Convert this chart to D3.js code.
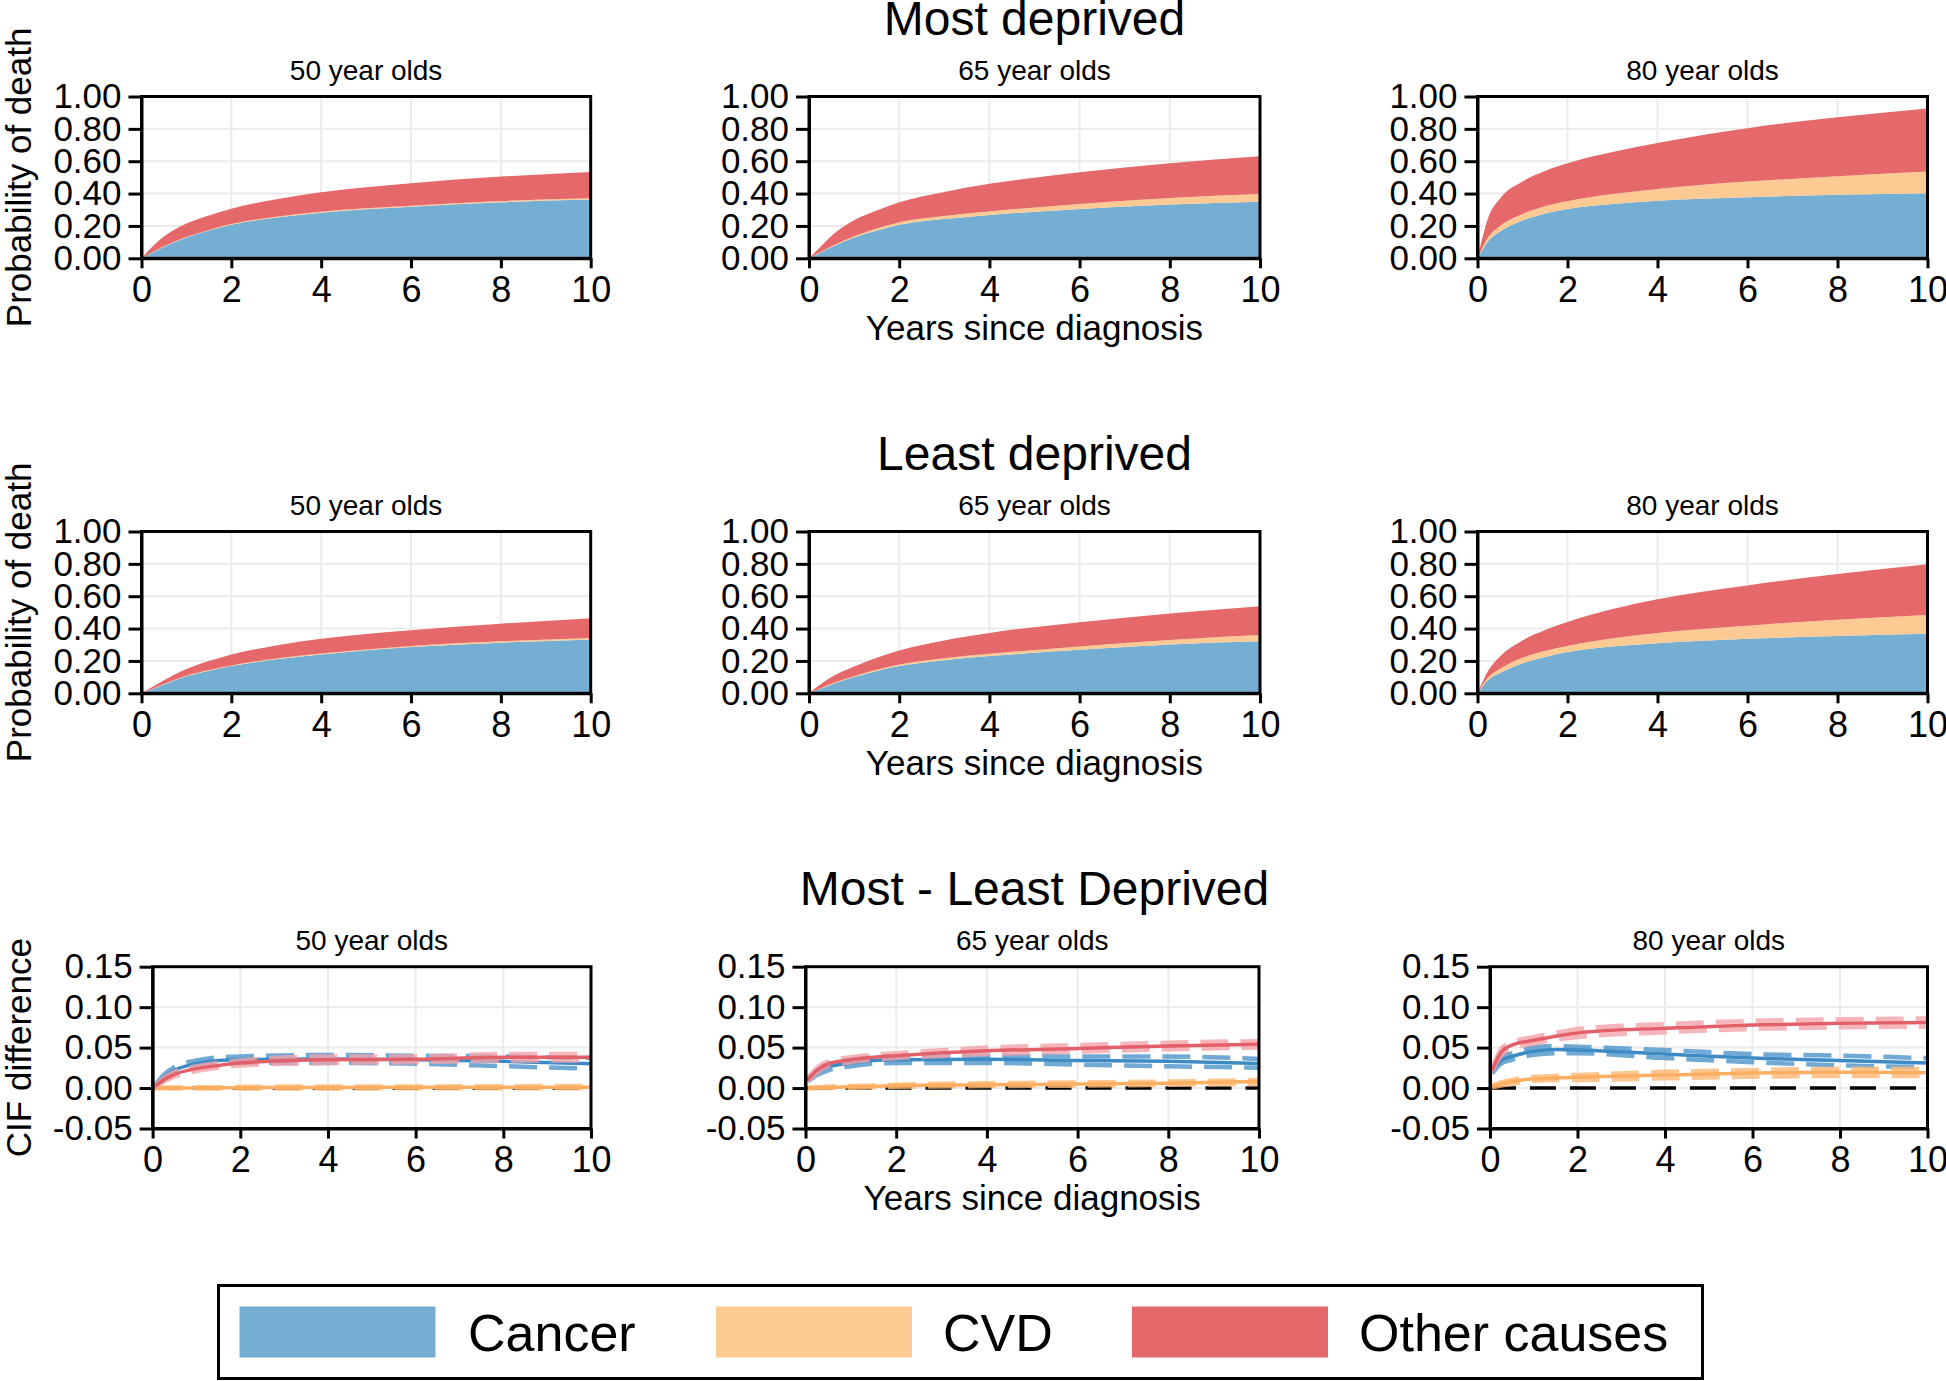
<!DOCTYPE html>
<html>
<head>
<meta charset="utf-8">
<script src="https://cdn.jsdelivr.net/npm/d3@7"></script>
<style>
  body { margin: 0; background: #fff; }
  svg { display: block; }
</style>
</head>
<body>
<svg id="chart" width="1946" height="1381"></svg>
<script>
const fontFamily = "Arial, 'Liberation Sans', Helvetica, sans-serif";

const causes = ["Cancer", "CVD", "Other causes"];
const areaColors = ["#74afd3", "#fdca94", "#e5696b"];
const lineColors = ["#3d8bc4", "#fdae61", "#e35f69"];
const ciColors = ["#4b93c9", "#fdb874", "#f2a3a9"];
const ageGroups = ["50 year olds", "65 year olds", "80 year olds"];
const rowTitles = ["Most deprived", "Least deprived", "Most - Least Deprived"];

const xTicks = [0, 2, 4, 6, 8, 10];
const cifTicks = [0, 0.2, 0.4, 0.6, 0.8, 1.0];
const diffTicks = [-0.05, 0, 0.05, 0.10, 0.15];

// cumulative incidence by cause (years since diagnosis)
const cifTimes = [0, 0.25, 0.5, 1, 1.5, 2, 3, 4, 6, 8, 10];

const most50Cancer = [0, .038, .072, .128, .172, .208, .252, .282, .318, .346, .363];
const most50CVD    = [0, .001, .002, .003, .0035, .004, .005, .006, .007, .008, .008];
const most50Other  = [0, .036, .061, .084, .0895, .095, .108, .120, .139, .151, .163];

const most65Cancer = [0, .035, .070, .128, .172, .208, .243, .268, .305, .332, .350];
const most65CVD    = [0, .002, .004, .008, .012, .015, .019, .022, .031, .041, .048];
const most65Other  = [0, .033, .066, .099, .111, .123, .148, .170, .196, .215, .233];

const most80Cancer = [0, .110, .165, .233, .277, .305, .335, .355, .377, .392, .402];
const most80CVD    = [0, .025, .035, .041, .045, .048, .062, .074, .097, .115, .134];
const most80Other  = [0, .125, .170, .201, .218, .235, .260, .284, .330, .365, .390];

const least50Cancer = [0, .027, .055, .105, .140, .168, .210, .240, .286, .313, .333];
const least50CVD    = [0, .001, .002, .003, .0035, .004, .005, .006, .007, .008, .009];
const least50Other  = [0, .012, .023, .042, .0555, .068, .081, .091, .097, .109, .122];

const least65Cancer = [0, .028, .055, .100, .138, .168, .205, .230, .269, .302, .321];
const least65CVD    = [0, .002, .004, .006, .008, .010, .012, .014, .021, .028, .039];
const least65Other  = [0, .025, .041, .059, .074, .087, .110, .129, .149, .163, .178];

const least80Cancer = [0, .085, .125, .185, .225, .255, .290, .310, .337, .354, .368];
const least80CVD    = [0, .018, .027, .035, .036, .037, .050, .063, .081, .101, .116];
const least80Other  = [0, .042, .076, .107, .130, .149, .181, .209, .249, .282, .313];

// CIF difference (most - least deprived) with confidence limits
const diffTimes = [0.05, 0.25, 0.5, 1, 1.5, 2, 4, 6, 8, 10];

const diff50Cancer   = [.002, .013, .022, .030, .034, .035, .036, .035, .033, .030];
const diff50CancerLo = [.001, .010, .018, .026, .030, .031, .031, .030, .027, .024];
const diff50CancerHi = [.003, .016, .026, .034, .038, .039, .041, .040, .039, .037];
const diff50CVD      = [0, 0, 0, 0, .0003, .0005, .0007, .001, .001, .001];
const diff50CVDLo    = [0, -.0003, -.0005, -.0006, -.0005, -.0005, -.0005, -.0003, -.0003, -.0003];
const diff50CVDHi    = [.0003, .0005, .0007, .001, .001, .0015, .002, .002, .0023, .0025];
const diff50Other    = [.002, .010, .017, .024, .028, .031, .035, .0355, .038, .038];
const diff50OtherLo  = [.001, .008, .014, .021, .025, .028, .031, .032, .034, .034];
const diff50OtherHi  = [.003, .012, .020, .027, .031, .034, .039, .039, .042, .042];

const diff65Cancer   = [.010, .019, .026, .031, .034, .035, .0355, .034, .033, .0305];
const diff65CancerLo = [.008, .016, .022, .027, .030, .031, .031, .029, .027, .025];
const diff65CancerHi = [.012, .022, .030, .035, .038, .039, .040, .039, .039, .036];
const diff65CVD      = [0, .0005, .001, .0015, .002, .003, .004, .005, .006, .008];
const diff65CVDLo    = [-.0005, 0, 0, .0005, .001, .0015, .0025, .003, .004, .005];
const diff65CVDHi    = [.0005, .001, .002, .0025, .003, .004, .006, .007, .008, .010];
const diff65Other    = [.010, .022, .030, .035, .038, .040, .046, .049, .052, .054];
const diff65OtherLo  = [.008, .019, .027, .032, .035, .037, .042, .045, .048, .050];
const diff65OtherHi  = [.012, .025, .033, .038, .041, .043, .050, .053, .056, .058];

const diff80Cancer   = [.020, .034, .039, .0456, .0476, .047, .042, .037, .034, .031];
const diff80CancerLo = [.018, .030, .035, .041, .043, .043, .037, .032, .028, .026];
const diff80CancerHi = [.022, .038, .043, .050, .052, .051, .047, .042, .040, .037];
const diff80CVD      = [.002, .005, .008, .0115, .0125, .0135, .016, .0185, .0195, .019];
const diff80CVDLo    = [.001, .003, .005, .009, .010, .010, .012, .014, .015, .015];
const diff80CVDHi    = [.003, .007, .010, .014, .015, .016, .020, .022, .024, .024];
const diff80Other    = [.022, .044, .053, .059, .064, .068, .074, .078, .080, .081];
const diff80OtherLo  = [.020, .040, .049, .055, .060, .063, .069, .073, .075, .076];
const diff80OtherHi  = [.024, .048, .057, .063, .068, .073, .079, .083, .085, .086];

const stackedPanels = [
  [[most50Cancer, most50CVD, most50Other], [most65Cancer, most65CVD, most65Other], [most80Cancer, most80CVD, most80Other]],
  [[least50Cancer, least50CVD, least50Other], [least65Cancer, least65CVD, least65Other], [least80Cancer, least80CVD, least80Other]]
];
const diffPanels = [
  [[diff50Cancer, diff50CancerLo, diff50CancerHi], [diff50CVD, diff50CVDLo, diff50CVDHi], [diff50Other, diff50OtherLo, diff50OtherHi]],
  [[diff65Cancer, diff65CancerLo, diff65CancerHi], [diff65CVD, diff65CVDLo, diff65CVDHi], [diff65Other, diff65OtherLo, diff65OtherHi]],
  [[diff80Cancer, diff80CancerLo, diff80CancerHi], [diff80CVD, diff80CVDLo, diff80CVDHi], [diff80Other, diff80OtherLo, diff80OtherHi]]
];

// layout
const rowTop = [96.5, 531.5, 966.7];
const plotH = 161.8;
const colsCif = [[141.5, 590.7], [809, 1260], [1477.5, 1927.5]];
const colsDiff = [[152.6, 591], [805.5, 1259], [1490, 1927.5]];
const titleX = 1034.5;

const svg = d3.select("#chart").attr("font-family", fontFamily);
svg.append("rect").attr("width", 1946).attr("height", 1381).attr("fill", "#fff");

const fmt2 = d => d3.format(".2f")(d).replace("\u2212", "-");

function styleAxis(g, size) {
  g.attr("font-family", fontFamily).attr("font-size", size);
  g.select(".domain").attr("stroke", "#000").attr("stroke-width", 3);
  g.selectAll(".tick line").attr("stroke", "#000").attr("stroke-width", 3);
  g.selectAll(".tick text").attr("fill", "#000");
}

function drawPanel(row, col, drawMarks) {
  const isDiff = row === 2;
  const [x0, x1] = (isDiff ? colsDiff : colsCif)[col];
  const y0 = rowTop[row], y1 = rowTop[row] + plotH;
  const x = d3.scaleLinear().domain([0, 10]).range([x0, x1]);
  const y = isDiff ? d3.scaleLinear().domain([-0.05, 0.15]).range([y1, y0])
                   : d3.scaleLinear().domain([0, 1]).range([y1, y0]);
  const yTicks = isDiff ? diffTicks : cifTicks;
  const g = svg.append("g");

  // grid
  g.append("g").selectAll("line").data(xTicks).join("line")
    .attr("x1", d => x(d)).attr("x2", d => x(d)).attr("y1", y0).attr("y2", y1)
    .attr("stroke", "#ebebeb").attr("stroke-width", 2);
  g.append("g").selectAll("line").data(yTicks).join("line")
    .attr("x1", x0).attr("x2", x1).attr("y1", d => y(d)).attr("y2", d => y(d))
    .attr("stroke", "#ebebeb").attr("stroke-width", 2);

  drawMarks(g, x, y);

  // frame
  g.append("rect").attr("x", x0).attr("y", y0).attr("width", x1 - x0).attr("height", y1 - y0)
    .attr("fill", "none").attr("stroke", "#000").attr("stroke-width", 3);

  const yAxis = g.append("g").attr("transform", `translate(${x0},0)`)
    .call(d3.axisLeft(y).tickValues(yTicks).tickFormat(fmt2)
      .tickSizeInner(13).tickSizeOuter(0).tickPadding(7));
  styleAxis(yAxis, 35);

  const xAxis = g.append("g").attr("transform", `translate(0,${y1})`)
    .call(d3.axisBottom(x).tickValues(xTicks).tickFormat(d3.format("d"))
      .tickSizeInner(10).tickSizeOuter(0).tickPadding(8));
  styleAxis(xAxis, 36);

  g.append("text").attr("x", (x0 + x1) / 2).attr("y", y0 - 16.5)
    .attr("text-anchor", "middle").attr("font-size", 28).text(ageGroups[col]);

  if (col === 1) {
    g.append("text").attr("x", (x0 + x1) / 2).attr("y", y1 + 81.5)
      .attr("text-anchor", "middle").attr("font-size", 35).text("Years since diagnosis");
  }
  if (col === 0) {
    g.append("text").attr("transform", `translate(31,${(y0 + y1) / 2}) rotate(-90)`)
      .attr("text-anchor", "middle").attr("font-size", 35)
      .text(isDiff ? "CIF difference" : "Probability of death");
  }
}

// stacked CIF rows
const keys = ["cancer", "cvd", "other"];
const stack = d3.stack().keys(keys);
for (let row = 0; row < 2; row++) {
  for (let col = 0; col < 3; col++) {
    const series = stackedPanels[row][col];
    const table = cifTimes.map((t, i) => ({ t: t, cancer: series[0][i], cvd: series[1][i], other: series[2][i] }));
    drawPanel(row, col, (g, x, y) => {
      const area = d3.area().curve(d3.curveMonotoneX)
        .x(d => x(d.data.t)).y0(d => y(d[0])).y1(d => y(d[1]));
      g.append("g").selectAll("path").data(stack(table)).join("path")
        .attr("d", area).attr("fill", (d, i) => areaColors[i]);
    });
  }
}

// difference row
for (let col = 0; col < 3; col++) {
  drawPanel(2, col, (g, x, y) => {
    const line = d3.line().curve(d3.curveMonotoneX)
      .x((d, i) => x(diffTimes[i])).y(d => y(d));
    g.append("line").attr("x1", x(0)).attr("x2", x(10)).attr("y1", y(0)).attr("y2", y(0))
      .attr("stroke", "#000").attr("stroke-width", 3.5).attr("stroke-dasharray", "26,14");
    [0, 1, 2].forEach(c => {
      const [est, lo, hi] = diffPanels[col][c];
      [lo, hi].forEach(ci => {
        g.append("path").attr("d", line(ci)).attr("fill", "none")
          .attr("stroke", ciColors[c]).attr("stroke-width", 4.5).attr("opacity", 0.8)
          .attr("stroke-dasharray", "28,12");
      });
      g.append("path").attr("d", line(est)).attr("fill", "none")
        .attr("stroke", lineColors[c]).attr("stroke-width", 3.5);
    });
  });
}

// row titles
const titleY = [35, 470, 905];
svg.selectAll(".row-title").data(rowTitles).join("text")
  .attr("class", "row-title")
  .attr("x", titleX).attr("y", (d, i) => titleY[i])
  .attr("text-anchor", "middle").attr("font-size", 48).text(d => d);

// legend
const legend = svg.append("g");
legend.append("rect").attr("x", 218.5).attr("y", 1285.5).attr("width", 1484).attr("height", 93)
  .attr("fill", "#fff").attr("stroke", "#000").attr("stroke-width", 3);
const swatchX = [239.5, 716, 1132];
const labelX = [468, 943, 1359];
legend.selectAll("rect.swatch").data(causes).join("rect").attr("class", "swatch")
  .attr("x", (d, i) => swatchX[i]).attr("y", 1306.5).attr("width", 196).attr("height", 51)
  .attr("fill", (d, i) => areaColors[i]);
legend.selectAll("text").data(causes).join("text")
  .attr("x", (d, i) => labelX[i]).attr("y", 1351).attr("font-size", 52).text(d => d);
</script>
</body>
</html>
